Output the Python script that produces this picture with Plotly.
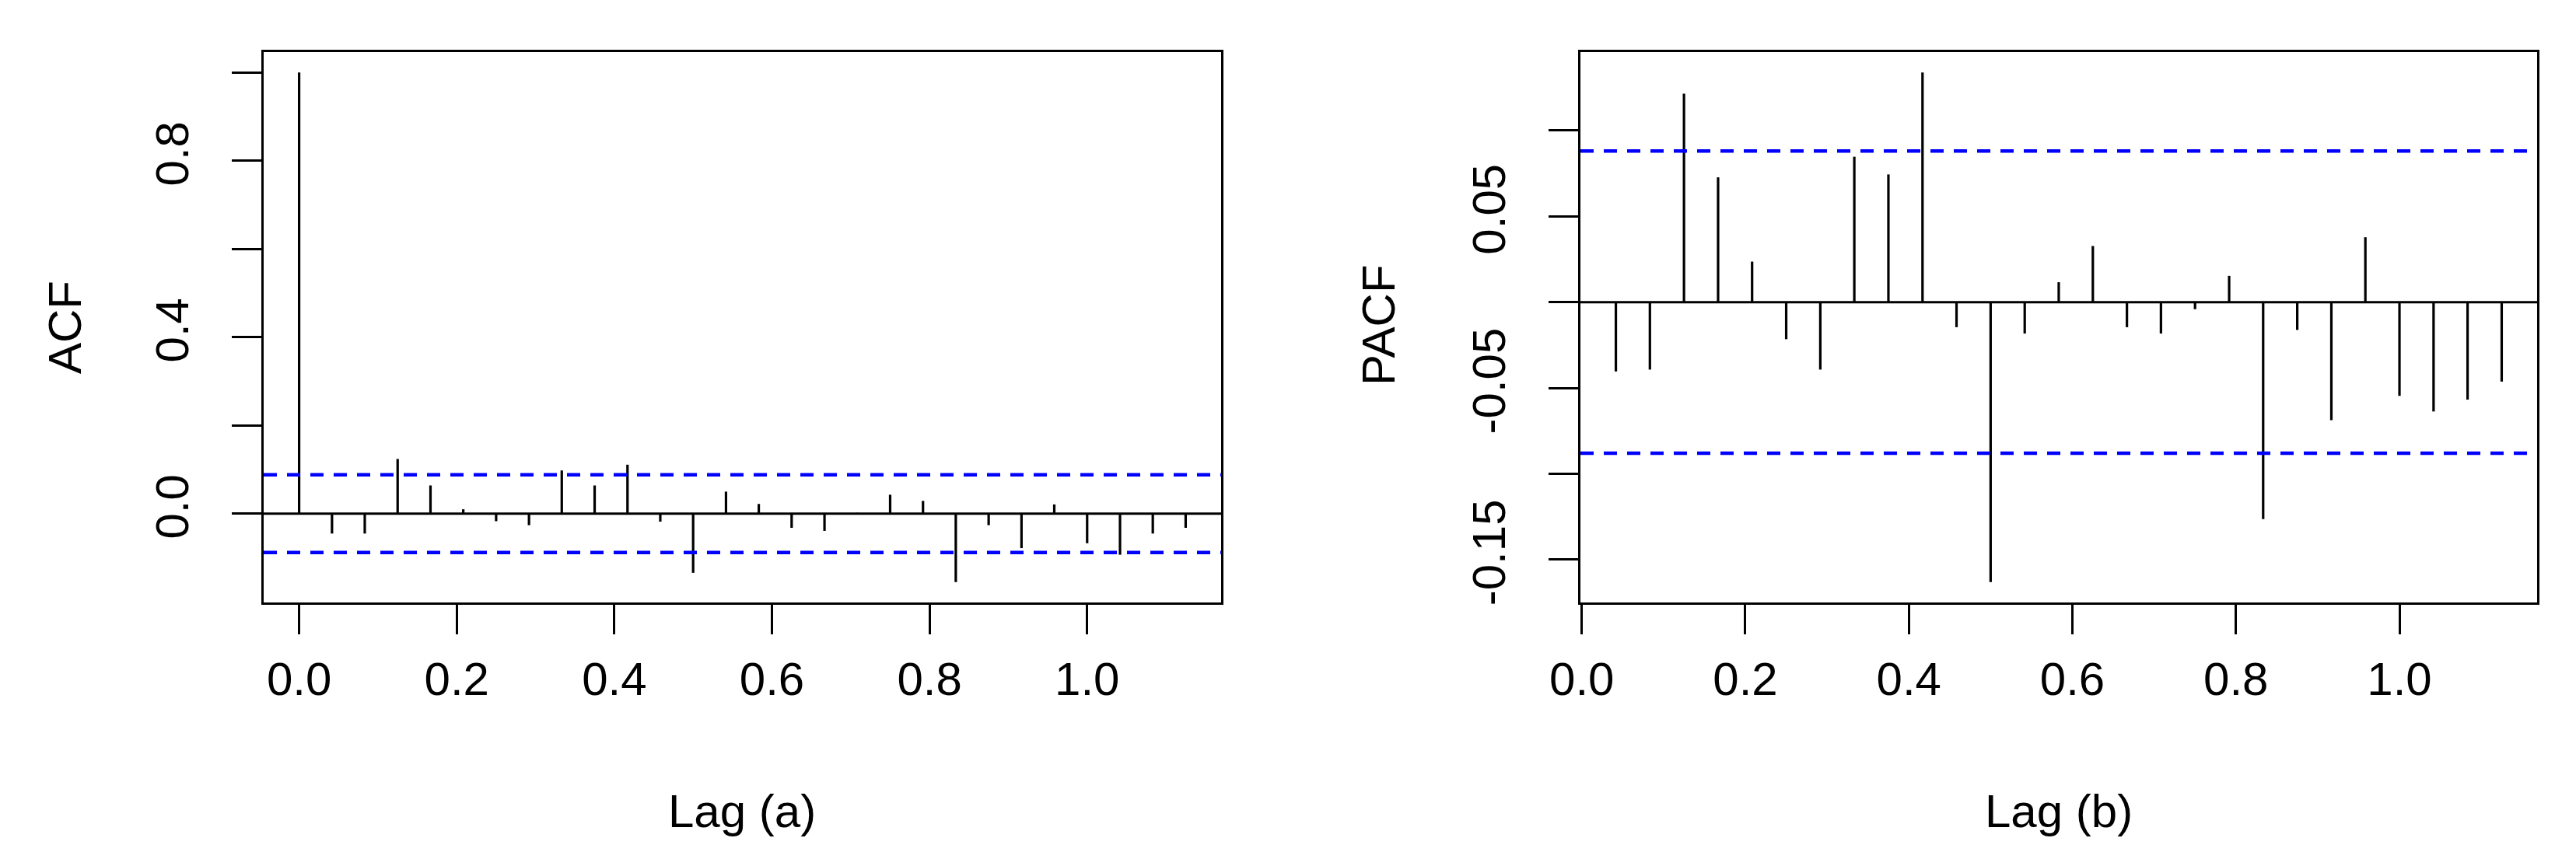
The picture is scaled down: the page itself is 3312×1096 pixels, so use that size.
import plotly.graph_objects as go

# lags in years (frequency 24)
acf_lags = [0.0, 0.0417, 0.0833, 0.125, 0.1667, 0.2083, 0.25, 0.2917, 0.3333, 0.375,
            0.4167, 0.4583, 0.5, 0.5417, 0.5833, 0.625, 0.6667, 0.7083, 0.75, 0.7917,
            0.8333, 0.875, 0.9167, 0.9583, 1.0, 1.0417, 1.0833, 1.125]
acf_vals = [1.0, -0.045, -0.045, 0.124, 0.064, 0.010, -0.017, -0.026, 0.098, 0.064,
            0.111, -0.018, -0.134, 0.050, 0.022, -0.032, -0.039, 0.002, 0.043, 0.029,
            -0.155, -0.026, -0.078, 0.021, -0.067, -0.093, -0.045, -0.032]

pacf_lags = acf_lags[1:]
pacf_vals = [-0.0404, -0.0393, 0.1214, 0.0727, 0.0236, -0.0216, -0.0393, 0.0847, 0.0744,
             0.1338, -0.0146, -0.1631, -0.0183, 0.0116, 0.0327, -0.0146, -0.0183, -0.0041,
             0.0153, -0.1264, -0.0162, -0.0688, 0.0378, -0.0546, -0.0637, -0.0568, -0.0463]

ci = 0.088

x_ticks = [0.0, 0.2, 0.4, 0.6, 0.8, 1.0]
x_labels = ["0.0", "0.2", "0.4", "0.6", "0.8", "1.0"]
acf_yticks = [0.0, 0.2, 0.4, 0.6, 0.8, 1.0]
acf_ylabels = ["0.0", "", "0.4", "", "0.8", ""]
pacf_yticks = [-0.15, -0.10, -0.05, 0.0, 0.05, 0.10]
pacf_ylabels = ["-0.15", "", "-0.05", "", "0.05", ""]

W, H = 3312, 1096
FONT = "Liberation Sans, Arial, sans-serif"


def stems(lags, vals):
    xs, ys = [], []
    for lag, v in zip(lags, vals):
        xs += [lag, lag, None]
        ys += [0, v, None]
    return xs, ys


def pad(lo, hi):
    d = (hi - lo) * 0.04
    return [lo - d, hi + d]


fig = go.Figure()
for i, (lags, vals) in enumerate([(acf_lags, acf_vals), (pacf_lags, pacf_vals)]):
    xs, ys = stems(lags, vals)
    fig.add_trace(go.Scatter(x=xs, y=ys, mode="lines",
                             line=dict(color="black", width=3.2),
                             xaxis="x" if i == 0 else "x2",
                             yaxis="y" if i == 0 else "y2",
                             showlegend=False, hoverinfo="skip"))

axis_common = dict(showline=True, mirror=True, linecolor="black", linewidth=3,
                   ticks="outside", ticklen=38, tickwidth=2.5, tickcolor="black",
                   showgrid=False, zeroline=False,
                   tickfont=dict(family=FONT, size=60, color="black"))

ydom = [1 - 767 / H, 1 - 59 / H]
fig.update_layout(
    width=W, height=H,
    margin=dict(l=0, r=0, t=0, b=0),
    paper_bgcolor="white", plot_bgcolor="white",
    showlegend=False,
    xaxis=dict(domain=[331 / W, 1562 / W], range=pad(min(acf_lags), max(acf_lags)),
               tickvals=x_ticks, ticktext=x_labels, anchor="y", automargin=False,
               ticklabelstandoff=6, **axis_common),
    yaxis=dict(domain=ydom, range=pad(min(acf_vals + [-ci]), max(acf_vals + [ci])),
               tickvals=acf_yticks, ticktext=acf_ylabels, tickangle=-90, anchor="x",
               automargin=False, ticklabelstandoff=32, **axis_common),
    xaxis2=dict(domain=[2024 / W, 3254 / W], range=pad(min(pacf_lags), max(pacf_lags)),
                tickvals=x_ticks, ticktext=x_labels, anchor="y2", automargin=False,
                ticklabelstandoff=6, **axis_common),
    yaxis2=dict(domain=ydom, range=pad(min(pacf_vals + [-ci]), max(pacf_vals + [ci])),
                tickvals=pacf_yticks, ticktext=pacf_ylabels, tickangle=-90, anchor="x2",
                automargin=False, ticklabelstandoff=32, **axis_common),
)

# zero line and confidence bounds
for xr, yr in [("x", "y"), ("x2", "y2")]:
    fig.add_shape(type="line", xref=xr + " domain", yref=yr, x0=0, x1=1, y0=0, y1=0,
                  line=dict(color="black", width=3))
    for c in (ci, -ci):
        fig.add_shape(type="line", xref=xr + " domain", yref=yr, x0=0, x1=1, y0=c, y1=c,
                      line=dict(color="#0000FF", width=4.5, dash="17px,13px"))

title_font = dict(family=FONT, size=60, color="black")
fig.add_annotation(text="ACF", x=75 / W, y=1 - 413 / H, xref="paper", yref="paper",
                   textangle=-90, showarrow=False, font=title_font,
                   xanchor="center", yanchor="middle")
fig.add_annotation(text="PACF", x=1765 / W, y=1 - 410 / H, xref="paper", yref="paper",
                   textangle=-90, showarrow=False, font=title_font,
                   xanchor="center", yanchor="middle")
fig.add_annotation(text="Lag (a)", x=946 / W, y=1 - 1035 / H, xref="paper", yref="paper",
                   showarrow=False, font=title_font, xanchor="center", yanchor="middle")
fig.add_annotation(text="Lag (b)", x=2639 / W, y=1 - 1035 / H, xref="paper", yref="paper",
                   showarrow=False, font=title_font, xanchor="center", yanchor="middle")

fig.write_html("out.html")
